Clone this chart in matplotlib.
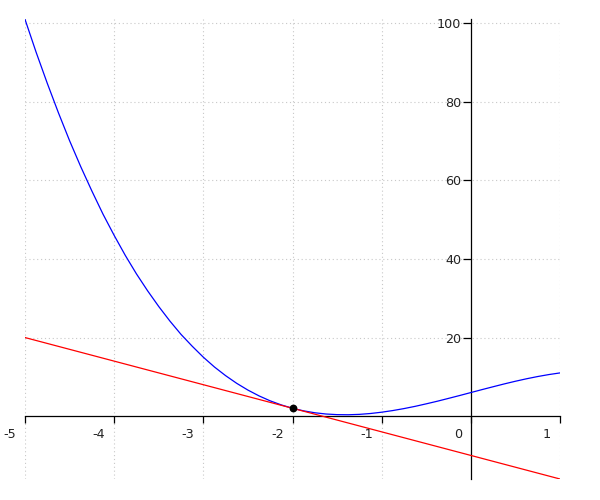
import matplotlib
matplotlib.use("Agg")
import matplotlib.pyplot as plt
import matplotlib.transforms as mtransforms

# curve
curve_x = [-5, -4.875, -4.75, -4.625, -4.5, -4.375, -4.25, -4.125,
           -4, -3.875, -3.75, -3.625, -3.5, -3.375, -3.25, -3.125,
           -3, -2.875, -2.75, -2.625, -2.5, -2.375, -2.25, -2.125,
           -2, -1.875, -1.75, -1.625, -1.5, -1.375, -1.25, -1.125,
           -1, -0.875, -0.75, -0.625, -0.5, -0.375, -0.25, -0.125,
           0, 0.125, 0.25, 0.375, 0.5, 0.625, 0.75, 0.875, 1]
curve_y = [101, 92.6, 84.7, 77.2, 70.1, 63.5, 57.3, 51.4,
           46, 40.9, 36.2, 31.9, 27.9, 24.2, 20.8, 17.8,
           15, 12.5, 10.3, 8.34, 6.63, 5.15, 3.89, 2.85,
           2, 1.34, 0.86, 0.54, 0.38, 0.35, 0.45, 0.67,
           1, 1.42, 1.92, 2.49, 3.13, 3.8, 4.52, 5.25,
           6, 6.75, 7.48, 8.2, 8.88, 9.51, 10.08, 10.58, 11]

# tangent line end points
line_x = [-5, 1]
line_y = [20, -16]

# marked point
point_x = [-2]
point_y = [2]

x_ticks = [-5, -4, -3, -2, -1, 0, 1]
y_ticks = [20, 40, 60, 80, 100]

fig = plt.figure(figsize=(6, 5), dpi=100)
ax = fig.add_axes([25 / 600, 21 / 500, 535 / 600, 459.7 / 500])

ax.plot(curve_x, curve_y, color="blue", linewidth=0.9, zorder=3)
ax.plot(line_x, line_y, color="red", linewidth=0.9, zorder=3)
ax.plot(point_x, point_y, "o", color="black", markersize=4.6, zorder=5)

ax.set_xlim(-5, 1)
ax.set_ylim(-16, 101)

ax.spines["left"].set_position(("data", 0))
ax.spines["bottom"].set_position(("data", 0))
ax.spines["top"].set_visible(False)
ax.spines["right"].set_visible(False)
for side in ("left", "bottom"):
    ax.spines[side].set_linewidth(0.9)
    ax.spines[side].set_color("black")

ax.set_xticks(x_ticks)
ax.set_xticklabels([str(v) for v in x_ticks])
ax.set_yticks(y_ticks)
ax.set_yticklabels([str(v) for v in y_ticks])

ax.tick_params(axis="x", direction="out", length=5, width=0.9, pad=3.6,
               labelsize=9.2, labelcolor="#222222")
ax.tick_params(axis="y", direction="out", length=5.5, width=0.9, pad=1.5,
               labelsize=9.2, labelcolor="#222222")

# x labels sit to the left of their ticks
offset = mtransforms.ScaledTranslation(-9 / 100, 0, fig.dpi_scale_trans)
for label in ax.get_xticklabels():
    label.set_horizontalalignment("right")
    label.set_transform(label.get_transform() + offset)

grid_style = dict(color="#c8c8c8", linewidth=0.8, linestyle=(0, (1, 2.5)), zorder=0)
for v in x_ticks:
    if v != 0:
        ax.axvline(v, **grid_style)
for v in y_ticks:
    ax.axhline(v, **grid_style)

fig.savefig("out.png", dpi=100)
